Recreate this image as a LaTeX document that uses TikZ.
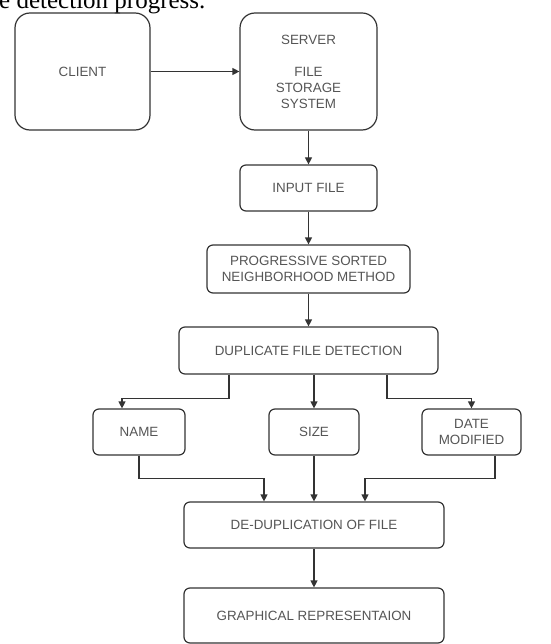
\documentclass[tikz,border=0pt]{standalone}
\usepackage{fontspec}
\setmainfont{Liberation Serif}
\newfontfamily\boxfont{Liberation Sans}
\usetikzlibrary{arrows.meta,calc}
\definecolor{txtgray}{HTML}{555555}
\definecolor{linegray}{HTML}{333333}
\tikzset{
  box/.style={draw=linegray, line width=1.2pt, rounded corners=6pt, inner sep=0pt,
    align=center, text=txtgray, font=\boxfont\fontsize{13.4}{16}\selectfont},
  bigbox/.style={box, rounded corners=15pt},
  arr/.style={draw=linegray, line width=1.2pt, -{Triangle[width=7pt,length=7pt]}},
}
\begin{document}
\begin{tikzpicture}[x=1pt,y=-1pt]
\useasboundingbox (0,0) rectangle (550,644);
\node[anchor=base west, inner sep=0pt, font=\fontsize{25}{30}\selectfont] (cap) at (-1,8.5) {e detection progress.};
\node[bigbox, minimum width=135pt, minimum height=117pt] (client) at (82.5,71.5) {CLIENT};
\node[bigbox, minimum width=137pt, minimum height=117pt] (server) at (308.5,71.5) {SERVER\\[16pt]FILE\\STORAGE\\SYSTEM};
\node[box, minimum width=137pt, minimum height=46pt] (input) at (308.5,188) {INPUT FILE};
\node[box, minimum width=203pt, minimum height=48pt] (psn) at (308.5,269) {PROGRESSIVE SORTED\\NEIGHBORHOOD METHOD};
\node[box, minimum width=259pt, minimum height=47pt] (dfd) at (308.5,350.5) {DUPLICATE FILE DETECTION};
\node[box, minimum width=92pt, minimum height=46pt] (name) at (139,432) {NAME};
\node[box, minimum width=90pt, minimum height=46pt] (size) at (314,432) {SIZE};
\node[box, minimum width=99pt, minimum height=46pt] (date) at (471.5,432) {DATE\\MODIFIED};
\node[box, minimum width=260pt, minimum height=46pt] (dedup) at (314,525) {DE-DUPLICATION OF FILE};
\node[box, minimum width=260pt, minimum height=55pt] (graph) at (314,615.5) {GRAPHICAL REPRESENTAION};

\draw[arr] (client) -- (server);
\draw[arr] (server) -- (input);
\draw[arr] (input) -- (psn);
\draw[arr] (psn) -- (dfd);
\draw[arr] ($(dfd.south)+(-79.5,0)$) -- ++(0,24) -| ($(name.north)+(-17,0)$);
\draw[arr] (size.north |- dfd.south) -- (size.north);
\draw[arr] ($(dfd.south)+(78.5,0)$) -- ++(0,24) -| (date.north);
\draw[arr] (name.south) -- ++(0,23) -| ($(dedup.north)+(-50,0)$);
\draw[arr] (size.south) -- (dedup.north);
\draw[arr] ($(date.south)+(23.5,0)$) -- ++(0,23) -| ($(dedup.north)+(51,0)$);
\draw[arr] (dedup) -- (graph);
\end{tikzpicture}
\end{document}
